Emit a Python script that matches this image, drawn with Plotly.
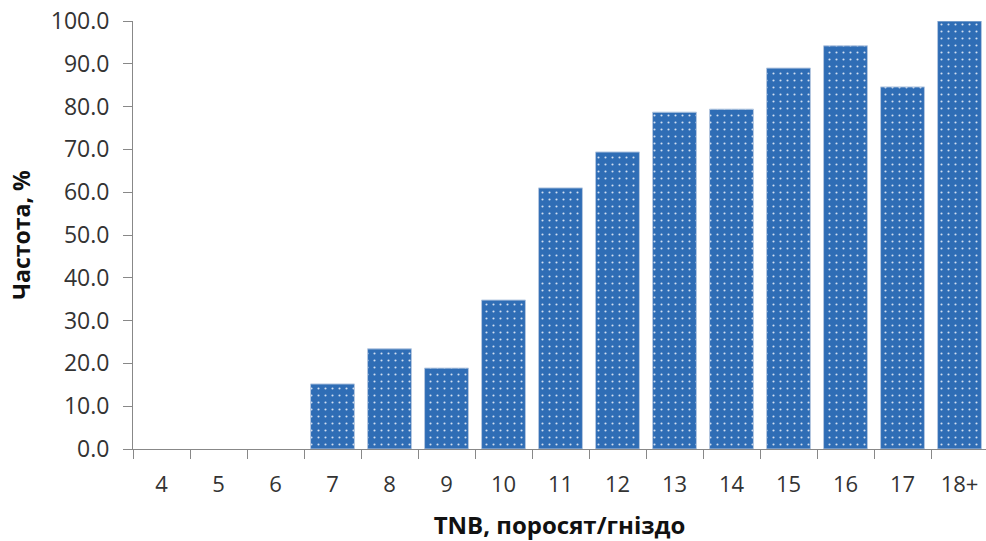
import plotly.graph_objects as go

categories = ["4", "5", "6", "7", "8", "9", "10", "11", "12", "13", "14", "15", "16", "17", "18+"]
values = [0.0, 0.0, 0.0, 15.2, 23.4, 18.9, 34.8, 61.0, 69.4, 78.7, 79.4, 89.0, 94.2, 84.6, 100.0]
y_ticks = [0, 10, 20, 30, 40, 50, 60, 70, 80, 90, 100]

font_family = "Open Sans, Liberation Sans, sans-serif"

outline_widths = [0 if v == 0 else 1 for v in values]

fig = go.Figure(
    go.Bar(
        x=categories,
        y=values,
        marker=dict(
            color="#2F6DB5",
            line=dict(color="#B4C7E0", width=outline_widths),
            pattern=dict(shape=".", size=7, solidity=0.07, fgcolor="#D2DFF1",
                         bgcolor="#2F6DB5", fillmode="replace"),
        ),
        width=0.77,
    )
)

fig.update_layout(
    width=986,
    height=541,
    margin=dict(l=133, r=0, t=21, b=92),
    paper_bgcolor="white",
    plot_bgcolor="white",
    showlegend=False,
    font=dict(family=font_family, size=22, color="#333333"),
)

fig.update_xaxes(
    type="category",
    range=[-0.5, 14.465],
    automargin=False,
    showgrid=False,
    showline=True,
    linecolor="#888888",
    linewidth=1,
    ticks="outside",
    tickson="boundaries",
    ticklen=9,
    tickcolor="#888888",
    ticklabelstandoff=16,
    tickfont=dict(size=22, color="#333333"),
    title=dict(text="<b>TNB, поросят/гніздо</b>", font=dict(size=24, color="#111111"), standoff=20),
)

fig.update_yaxes(
    range=[0, 100],
    automargin=False,
    tickvals=y_ticks,
    tickformat=".1f",
    showgrid=False,
    showline=True,
    linecolor="#888888",
    linewidth=1,
    ticks="outside",
    ticklen=9,
    tickcolor="#888888",
    ticklabelstandoff=9,
    tickfont=dict(size=23, color="#333333"),
    zeroline=False,
    title=dict(text="<b>Частота, %</b>", font=dict(size=23, color="#111111"), standoff=13),
)

fig.write_html("out.html", config={"displayModeBar": False},
               post_script="document.body.style.margin='0px';")
